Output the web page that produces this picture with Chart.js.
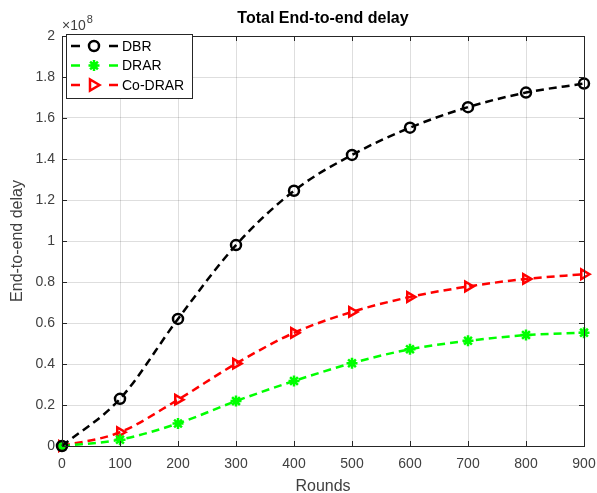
<!DOCTYPE html>
<html>
<head>
<meta charset="utf-8">
<script src="https://cdn.jsdelivr.net/npm/chart.js@4/dist/chart.umd.min.js"></script>
<style>
  html, body { margin: 0; padding: 0; background: #fff; }
  #wrap { width: 597px; height: 493px; }
</style>
</head>
<body>
<div id="wrap"><canvas id="grafico" width="597" height="493"></canvas></div>
<script>
// datos (valores en unidades de 1e8)
const rondas = [0, 100, 200, 300, 400, 500, 600, 700, 800, 900];
const dbr    = [0, 0.23, 0.62, 0.98, 1.245, 1.42, 1.553, 1.653, 1.724, 1.768];
const drar   = [0, 0.031, 0.11, 0.219, 0.317, 0.404, 0.472, 0.513, 0.541, 0.553];
const coDrar = [0, 0.067, 0.226, 0.402, 0.552, 0.654, 0.727, 0.778, 0.815, 0.838];
const nombres = ["DBR", "DRAR", "Co-DRAR"];
const colores = ["#000000", "#00ff00", "#ff0000"];
const ticksY = [0, 0.2, 0.4, 0.6, 0.8, 1, 1.2, 1.4, 1.6, 1.8, 2];

const FUENTE = "'Liberation Sans', Arial, sans-serif";
const GRIS = "#262626";
const TEXTO = "#404040";
const GUION = [8, 5];

function puntos(valores) {
    return rondas.map((r, i) => ({ x: r, y: valores[i] }));
}

function serie(i, valores, estilo, extra) {
    return Object.assign({
        label: nombres[i],
        data: puntos(valores),
        borderColor: colores[i],
        backgroundColor: colores[i],
        borderWidth: 2.5,
        borderDash: GUION,
        pointStyle: estilo,
        pointRadius: 5,
        pointBorderWidth: 2.5,
        pointBackgroundColor: "rgba(0,0,0,0)",
        pointBorderColor: colores[i],
        cubicInterpolationMode: "monotone",
        clip: false
    }, extra || {});
}

// marcador para la leyenda
function dibujarMarcador(ctx, estilo, color, x, y) {
    ctx.save();
    ctx.strokeStyle = color;
    ctx.fillStyle = color;
    ctx.lineWidth = 2.5;
    ctx.setLineDash([]);
    ctx.beginPath();
    if (estilo === "circle") {
        ctx.arc(x, y, 5, 0, Math.PI * 2);
        ctx.stroke();
    } else if (estilo === "star") {
        for (let k = 0; k < 4; k++) {
            let a = k * Math.PI / 4;
            ctx.moveTo(x - 5.5 * Math.cos(a), y - 5.5 * Math.sin(a));
            ctx.lineTo(x + 5.5 * Math.cos(a), y + 5.5 * Math.sin(a));
        }
        ctx.stroke();
        ctx.beginPath();
        ctx.arc(x, y, 3.5, 0, Math.PI * 2);
        ctx.fill();
    } else {
        ctx.moveTo(x + 5.5, y);
        ctx.lineTo(x - 4, y - 5.5);
        ctx.lineTo(x - 4, y + 5.5);
        ctx.closePath();
        ctx.stroke();
    }
    ctx.restore();
}

const extrasPlugin = {
    id: "extras",
    afterDraw(chart) {
        const ctx = chart.ctx;
        const a = chart.chartArea;
        const sx = chart.scales.x, sy = chart.scales.y;
        ctx.save();

        // caja y marcas hacia adentro
        ctx.strokeStyle = GRIS;
        ctx.lineWidth = 1;
        ctx.beginPath();
        ticksY.forEach(v => {
            let py = Math.round(sy.getPixelForValue(v)) + 0.5;
            ctx.moveTo(a.left, py); ctx.lineTo(a.left + 5, py);
            ctx.moveTo(a.right, py); ctx.lineTo(a.right - 5, py);
        });
        rondas.forEach(v => {
            let px = Math.round(sx.getPixelForValue(v)) + 0.5;
            ctx.moveTo(px, a.bottom); ctx.lineTo(px, a.bottom - 5);
            ctx.moveTo(px, a.top); ctx.lineTo(px, a.top + 5);
        });
        ctx.stroke();
        ctx.strokeRect(Math.round(a.left) + 0.5, Math.round(a.top) + 0.5,
                       Math.round(a.right - a.left), Math.round(a.bottom - a.top));

        // titulo
        ctx.fillStyle = "#000";
        ctx.font = "bold 16px " + FUENTE;
        ctx.textAlign = "center";
        ctx.textBaseline = "middle";
        ctx.fillText("Total End-to-end delay", (a.left + a.right) / 2, 19);

        // exponente del eje y
        ctx.fillStyle = TEXTO;
        ctx.textAlign = "left";
        ctx.textBaseline = "alphabetic";
        ctx.font = "14px " + FUENTE;
        ctx.fillText("\u00d710", a.left, 30);
        let w = ctx.measureText("\u00d710").width;
        ctx.font = "11px " + FUENTE;
        ctx.fillText("8", a.left + w + 1, 23);

        // leyenda
        const lx = a.left + 4, ly = a.top - 2, lw = 126, lh = 64;
        ctx.fillStyle = "#fff";
        ctx.fillRect(lx, ly, lw, lh);
        ctx.strokeStyle = GRIS;
        ctx.lineWidth = 1;
        ctx.strokeRect(lx + 0.5, ly + 0.5, lw, lh);
        chart.data.datasets.forEach((ds, i) => {
            let y = ly + 12 + i * 19.5;
            ctx.save();
            ctx.strokeStyle = ds.borderColor;
            ctx.lineWidth = 2.5;
            ctx.setLineDash([9, 29]);
            ctx.beginPath();
            ctx.moveTo(lx + 5, y);
            ctx.lineTo(lx + 54, y);
            ctx.stroke();
            ctx.restore();
            dibujarMarcador(ctx, ds.pointStyle, ds.borderColor, lx + 28, y);
            ctx.fillStyle = "#000";
            ctx.font = "14px " + FUENTE;
            ctx.textBaseline = "middle";
            ctx.fillText(ds.label, lx + 56, y + 1);
        });
        ctx.restore();
    }
};

new Chart(document.getElementById("grafico"), {
    type: "line",
    data: {
        datasets: [
            serie(0, dbr, "circle"),
            serie(1, drar, "star", { pointRadius: 5.5, pointBackgroundColor: colores[1] }),
            serie(2, coDrar, "triangle", { pointRotation: 90, pointRadius: 5.5 })
        ]
    },
    options: {
        responsive: false,
        animation: false,
        layout: { padding: { top: 36, right: 13, bottom: 0, left: 0 } },
        plugins: {
            legend: { display: false },
            title: { display: false },
            tooltip: { enabled: false }
        },
        scales: {
            x: {
                type: "linear",
                min: 0, max: 900,
                afterBuildTicks: s => { s.ticks = rondas.map(v => ({ value: v })); },
                afterFit: s => { s.height = 47; s.paddingLeft = 0; s.paddingRight = 0; },
                grid: { color: "rgba(0,0,0,0.13)", drawTicks: false },
                border: { display: false },
                ticks: {
                    color: TEXTO,
                    font: { family: FUENTE, size: 14 },
                    padding: 10,
                    maxRotation: 0
                },
                title: {
                    display: true,
                    text: "Rounds",
                    color: TEXTO,
                    font: { family: FUENTE, size: 16, lineHeight: 1 },
                    padding: { top: 0, bottom: -2 }
                }
            },
            y: {
                min: 0, max: 2,
                afterBuildTicks: s => { s.ticks = ticksY.map(v => ({ value: v })); },
                afterFit: s => { s.width = 62; s.paddingTop = 0; s.paddingBottom = 0; },
                grid: { color: "rgba(0,0,0,0.13)", drawTicks: false },
                border: { display: false },
                ticks: {
                    color: TEXTO,
                    font: { family: FUENTE, size: 14 },
                    padding: 7,
                    callback: v => String(Math.round(v * 10) / 10)
                },
                title: {
                    display: true,
                    text: "End-to-end delay",
                    color: TEXTO,
                    font: { family: FUENTE, size: 16, lineHeight: 1 },
                    padding: { top: 10, bottom: 0 }
                }
            }
        }
    },
    plugins: [extrasPlugin]
});
</script>
</body>
</html>
